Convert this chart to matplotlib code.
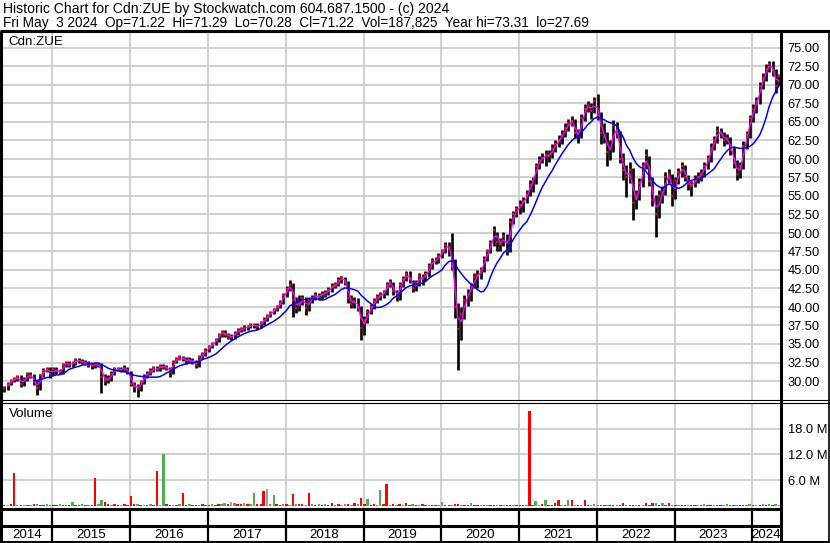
import numpy as np
import pandas as pd
import matplotlib
matplotlib.use("Agg")
import matplotlib.pyplot as plt
import matplotlib.dates as mdates

plt.rcParams['font.family'] = ['Liberation Sans', 'DejaVu Sans']

# semi-monthly bars (1st / 15th), mid May 2014 .. May 2024
periods = pd.date_range('2014-05-15', periods=240, freq='SMS')

close = [
    # 2014 (from May 15)
    29.0, 29.6, 30.0, 30.3, 30.5, 29.6, 30.2, 30.9, 30.7, 29.9, 29.0, 30.8, 31.4, 31.6, 31.0,
    # 2015
    31.6, 31.3, 31.2, 32.2, 32.4, 32.2, 32.4, 32.8, 32.7, 32.6, 32.4, 32.2,
    32.0, 32.3, 32.2, 30.6, 30.0, 30.3, 31.0, 31.6, 31.6, 31.5, 31.8, 31.2,
    # 2016
    29.6, 29.2, 29.0, 29.8, 30.6, 31.0, 31.4, 31.7, 31.6, 32.0, 31.9, 31.8,
    31.2, 32.6, 33.0, 33.2, 33.0, 32.7, 32.9, 32.6, 32.1, 33.2, 33.6, 34.1,
    # 2017
    34.6, 35.0, 35.5, 36.2, 36.6, 36.3, 36.1, 35.9, 36.4, 36.8, 37.0, 37.2,
    37.3, 37.6, 37.5, 37.4, 37.8, 38.3, 38.8, 39.2, 39.6, 40.0, 40.6, 41.6,
    # 2018
    42.4, 43.0, 41.0, 39.8, 40.6, 41.2, 39.8, 40.9, 41.2, 41.6, 41.4, 41.8,
    41.9, 42.3, 42.8, 43.0, 43.6, 44.0, 43.4, 41.2, 40.4, 40.8, 40.0, 37.2,
    # 2019
    38.2, 39.3, 40.0, 40.8, 41.3, 41.6, 41.9, 43.0, 43.4, 42.2, 41.3, 43.0,
    43.8, 44.5, 43.8, 42.5, 43.2, 44.2, 43.8, 44.4, 45.5, 46.2, 46.3, 46.9,
    # 2020
    47.5, 48.4, 48.0, 45.5, 40.0, 37.0, 39.0, 41.0, 41.8, 42.8, 44.0, 44.3,
    45.0, 46.5, 47.5, 48.6, 50.4, 48.8, 48.5, 49.6, 47.6, 51.5, 52.5, 53.2,
    # 2021
    53.8, 54.3, 55.2, 56.5, 57.0, 59.0, 59.8, 60.2, 60.6, 60.4, 61.4, 62.0,
    62.6, 63.3, 64.2, 64.8, 65.2, 63.5, 63.0, 65.6, 66.8, 67.3, 66.5, 67.8,
    # 2022
    66.0, 63.5, 63.0, 61.0, 61.5, 64.5, 63.5, 60.0, 58.5, 57.5, 58.5, 54.0,
    55.0, 56.8, 59.0, 60.5, 57.0, 54.5, 52.5, 55.0, 55.5, 57.5, 58.0, 55.0,
    # 2023
    57.0, 58.2, 59.0, 57.6, 56.6, 56.4, 57.2, 57.6, 58.0, 59.0, 60.0, 61.5,
    62.5, 63.8, 63.5, 62.5, 62.8, 61.2, 59.5, 58.0, 59.0, 61.8, 63.2, 65.5,
    # 2024
    66.8, 67.8, 69.8, 71.0, 72.2, 72.8, 72.0, 69.8, 71.2,
]

high = [
    29.3, 29.9, 30.3, 30.6, 30.8, 30.8, 30.5, 31.2, 31.2, 30.9, 30.1, 31.0, 31.7, 31.9, 31.9,
    31.9, 31.9, 31.6, 32.5, 32.7, 32.7, 32.7, 33.1, 33.1, 33.0, 32.9, 32.7,
    32.5, 32.6, 32.6, 32.4, 31.0, 30.8, 31.3, 31.9, 31.9, 31.9, 32.1, 31.9,
    31.4, 29.9, 29.6, 30.1, 30.9, 31.3, 31.7, 32.0, 32.0, 32.3, 32.3, 32.2,
    31.9, 32.9, 33.3, 33.5, 33.4, 33.2, 33.2, 33.1, 32.8, 33.5, 33.9, 34.4,
    34.9, 35.3, 35.8, 36.5, 36.9, 36.9, 36.5, 36.3, 36.7, 37.1, 37.3, 37.5,
    37.6, 37.9, 37.9, 37.8, 38.1, 38.6, 39.1, 39.5, 39.9, 40.3, 40.9, 41.9,
    42.8, 43.6, 43.2, 41.4, 41.6, 41.6, 41.3, 41.3, 41.6, 42.0, 41.9, 42.2,
    42.3, 42.7, 43.2, 43.4, 44.0, 44.2, 44.1, 43.5, 41.6, 41.3, 41.2, 40.2,
    38.8, 39.7, 40.4, 41.2, 41.7, 42.0, 42.3, 43.4, 43.8, 43.4, 42.3, 43.4,
    44.2, 44.9, 44.8, 43.6, 43.6, 44.6, 44.4, 44.8, 45.9, 46.6, 46.7, 47.3,
    47.9, 48.8, 48.8, 50.0, 46.5, 40.5, 40.0, 41.6, 42.4, 43.3, 44.6, 45.0,
    45.4, 46.9, 47.9, 49.0, 51.0, 50.2, 49.3, 50.2, 49.8, 52.0, 53.0, 53.7,
    54.4, 54.9, 55.8, 57.1, 57.6, 59.5, 60.4, 60.8, 61.2, 61.2, 62.0, 62.6,
    63.2, 63.9, 64.8, 65.4, 65.8, 65.4, 64.0, 66.1, 67.4, 67.9, 67.6, 68.4,
    68.8, 66.4, 64.8, 63.6, 62.6, 65.3, 65.0, 63.8, 60.8, 59.2, 59.6, 58.8,
    55.8, 57.4, 59.6, 61.4, 60.4, 57.6, 55.2, 55.8, 56.3, 58.2, 58.6, 58.0,
    57.6, 58.8, 59.6, 59.2, 57.8, 57.0, 57.8, 58.2, 58.6, 59.6, 60.6, 62.1,
    63.1, 64.4, 64.2, 63.7, 63.4, 63.0, 61.6, 59.8, 59.6, 62.4, 63.8, 66.0,
    67.4, 68.4, 70.4, 71.6, 72.8, 73.3, 73.2, 72.2, 71.5,
]

low = [
    28.5, 28.8, 29.4, 29.8, 30.0, 29.2, 29.3, 30.0, 30.4, 29.5, 28.1, 28.8, 30.6, 31.2, 30.4,
    30.8, 30.9, 30.9, 31.0, 31.9, 31.9, 31.9, 32.1, 32.4, 32.3, 32.1, 31.9,
    31.6, 31.7, 31.9, 28.4, 29.4, 29.7, 30.0, 30.8, 31.3, 31.2, 31.2, 30.9,
    29.3, 28.5, 27.9, 28.7, 29.6, 30.4, 30.8, 31.2, 31.3, 31.4, 31.6, 31.5,
    30.5, 31.0, 32.4, 32.8, 32.7, 32.3, 32.5, 32.3, 31.7, 31.9, 33.0, 33.4,
    33.9, 34.4, 34.8, 35.3, 35.9, 36.0, 35.7, 35.5, 35.7, 36.2, 36.6, 36.8,
    36.9, 37.1, 37.1, 36.9, 37.2, 37.6, 38.1, 38.6, 39.0, 39.4, 39.8, 40.4,
    41.3, 42.1, 38.7, 39.2, 39.5, 40.3, 38.9, 39.5, 40.5, 40.9, 41.0, 41.1,
    41.4, 41.6, 42.0, 42.5, 42.8, 43.3, 43.0, 40.6, 39.8, 39.9, 39.4, 35.5,
    36.2, 37.9, 39.0, 39.7, 40.5, 40.9, 41.2, 41.6, 42.7, 41.6, 40.8, 41.0,
    42.7, 43.5, 43.3, 42.0, 42.2, 42.9, 43.0, 43.5, 44.1, 45.2, 45.8, 46.0,
    46.6, 47.3, 46.9, 45.0, 38.5, 31.5, 35.5, 38.4, 40.2, 40.8, 42.5, 42.6,
    43.8, 44.7, 46.2, 47.3, 48.3, 47.5, 47.6, 48.2, 47.0, 47.4, 51.2, 52.2,
    52.6, 52.9, 54.0, 55.0, 55.6, 56.6, 58.6, 59.4, 59.0, 59.6, 60.2, 61.0,
    61.6, 62.0, 63.0, 63.8, 64.4, 62.9, 62.2, 62.8, 65.2, 66.4, 65.4, 66.2,
    65.3, 62.0, 62.2, 59.0, 59.8, 61.0, 62.8, 59.4, 57.2, 54.9, 56.8, 51.8,
    53.2, 54.4, 56.2, 58.6, 56.4, 53.6, 49.5, 52.0, 54.0, 55.2, 56.8, 53.6,
    54.6, 56.6, 57.6, 57.0, 55.8, 55.0, 56.2, 56.8, 57.0, 57.6, 58.6, 59.6,
    61.2, 62.2, 62.8, 61.8, 62.0, 60.6, 58.8, 57.2, 57.4, 58.6, 61.4, 62.8,
    65.0, 66.2, 67.4, 69.4, 70.6, 71.8, 71.2, 68.9, 70.0,
]

# volume in millions (largest session of each half month)
volume = [
    0.3, 0.2, 0.4, 7.7, 0.3, 0.2, 0.3, 0.2, 0.3, 0.4, 0.5, 0.3, 0.2, 0.4, 0.3,
    0.3, 0.2, 0.4, 0.3, 0.2, 0.3, 1.0, 0.3, 0.2, 0.4, 0.3, 0.2,
    0.3, 6.5, 0.4, 1.3, 1.0, 0.5, 0.3, 0.4, 0.2, 0.3, 0.4, 0.3,
    2.3, 0.5, 0.4, 0.3, 0.2, 0.3, 0.4, 0.3, 8.2, 0.3, 12.0, 0.4,
    0.3, 0.2, 0.3, 0.4, 3.1, 0.3, 0.4, 0.3, 0.2, 0.3, 0.4, 0.3,
    0.3, 0.4, 0.3, 0.5, 0.4, 0.6, 0.5, 1.0, 0.6, 0.4, 0.5, 0.6,
    0.4, 0.5, 3.1, 0.4, 0.5, 3.5, 3.9, 0.4, 2.5, 0.4, 0.3, 0.5,
    0.4, 0.3, 2.7, 0.5, 0.4, 0.5, 0.3, 3.1, 0.4, 0.3, 0.5, 0.3,
    0.4, 0.3, 0.8, 0.3, 0.4, 0.3, 0.5, 0.4, 0.3, 0.6, 0.4, 1.9,
    0.4, 1.6, 0.3, 0.4, 0.3, 3.7, 0.4, 5.1, 0.3, 0.4, 0.3, 0.4,
    0.3, 0.8, 0.3, 0.4, 0.3, 0.3, 0.4, 0.3, 0.2, 0.3, 0.3, 0.2,
    1.0, 0.3, 0.2, 0.3, 0.4, 0.5, 0.3, 0.3, 0.2, 0.6, 0.3, 0.2,
    0.3, 0.2, 0.3, 0.2, 0.3, 0.2, 0.3, 0.2, 0.3, 0.2, 0.3, 0.2,
    0.3, 0.2, 0.3, 22.0, 0.3, 1.2, 0.3, 0.4, 1.3, 0.3, 0.2, 0.6,
    1.3, 0.3, 0.2, 1.4, 1.4, 0.3, 0.2, 0.3, 1.3, 0.2, 0.3, 0.4,
    0.3, 0.2, 0.3, 0.2, 0.3, 0.2, 0.3, 0.2, 0.6, 0.2, 0.3, 0.2,
    0.3, 0.2, 0.3, 0.6, 0.3, 0.7, 0.7, 0.3, 0.7, 0.2, 0.6, 0.3,
    0.2, 0.3, 0.2, 0.3, 0.2, 0.3, 0.2, 0.3, 0.2, 0.5, 0.2, 0.3,
    0.2, 0.3, 0.2, 0.3, 0.5, 0.2, 0.3, 0.2, 0.3, 0.2, 0.3, 0.4,
    0.3, 0.2, 0.3, 0.4, 0.3, 0.4, 0.3, 0.4, 0.2,
]

# direction of that session: u = up, d = down, n = unchanged
vol_dir = (
    "d u d d u d u d u d u d d u d "
    "d d u d u d u d d u d u d d u u d d u d d u d d "
    "d d u d u d u d d u u d d u d u d d u d d u d d "
    "d u d d u u d n u d d u d u u d d d n u u d d u "
    "d u d u d d u d u d u d u d d u d n u d u d u d "
    "d u d d u u d d u d u d u d d u d u d d u d d u "
    "u d d u d d u d d u d d u d u d d u d u d d u d "
    "d d u d d u u d u d d d d u d u d u d u d d u u "
    "u d d u d d u d d u d d u d u d d d u d u d d u "
    "d u d d u d d u d u d d u d d u u d d u d d u u "
    "d u d u d u d u u"
).split()

years = list(range(2014, 2025))

# ---------------------------------------------------------------- layout
W, H = 830, 543
fig = plt.figure(figsize=(W / 100, H / 100), dpi=100)


def px_axes(x0, y0, x1, y1):
    return fig.add_axes([x0 / W, 1 - y1 / H, (x1 - x0) / W, (y1 - y0) / H])


d15 = mdates.date2num(pd.Timestamp('2015-01-01'))
d24 = mdates.date2num(pd.Timestamp('2024-01-01'))
dpp = (d24 - d15) / (752.3 - 52.5)          # days per pixel
xlim = (d15 - (52.5 - 2) * dpp, d24 + (780 - 752.3) * dpp)

xs = mdates.date2num(periods) + 4
close_s = pd.Series(close)
ma_fast = close_s.rolling(2).mean()
ma_slow = close_s.rolling(10).mean()

grid_kw = dict(color='#c8c8c8', lw=1.2, zorder=0)
year_x = [mdates.date2num(pd.Timestamp(f'{y}-01-01')) for y in years[1:]]

# price panel
ax = px_axes(2, 31, 780, 400)
ax.set_xlim(*xlim)
ax.set_ylim(30 - 19 / 7.4, 30 + 350 / 7.4)
ticks = np.arange(30, 75.01, 2.5)
for t in ticks:
    ax.axhline(t, **grid_kw)
for x in year_x:
    ax.axvline(x, **grid_kw)
ax.vlines(xs, low, high, color='black', lw=1.9, zorder=2)
ax.plot(xs, close, ls='none', marker='s', ms=1.6, mew=0, color='#ff0000', zorder=3)
ax.plot(xs, ma_fast, color='#ff00ff', lw=1.0, zorder=4)
ax.plot(xs, ma_slow, color='#0000ff', lw=1.1, zorder=4)
ax.yaxis.tick_right()
ax.set_yticks(ticks)
ax.set_yticklabels([f'{t:.2f}' for t in ticks])
ax.tick_params(axis='y', length=0, pad=5.5, labelsize=9.3)
ax.set_xticks([])
for s in ax.spines.values():
    s.set_visible(False)
ax.text(6 / 776, 1 - 14 / 369, 'Cdn:ZUE', transform=ax.transAxes,
        fontsize=9.6, va='baseline', ha='left')

# volume panel
av = px_axes(2, 403, 780, 508)
av.set_xlim(*xlim)
av.set_ylim(-2 / 25.8 * 6, (506 - 403) / 25.8 * 6)
vticks = [6, 12, 18]
for t in vticks:
    av.axhline(t, **grid_kw)
for x in year_x:
    av.axvline(x, **grid_kw)
vcol = {'u': '#4cb04c', 'd': '#ff0000', 'n': '#a0a0a0'}
av.bar(xs, volume, width=2.4 * dpp, color=[vcol[d] for d in vol_dir], zorder=2)
av.yaxis.tick_right()
av.set_yticks(vticks)
av.set_yticklabels([f'{t:.1f} M' for t in vticks])
av.tick_params(axis='y', length=0, pad=5.5, labelsize=9.3)
av.set_xticks([])
for s in av.spines.values():
    s.set_visible(False)
av.text(7 / 776, 1 - 14 / 105, 'Volume', transform=av.transAxes,
        fontsize=9.6, va='baseline', ha='left')

# year band
ab = px_axes(2, 509, 780, 541)
ab.set_xlim(*xlim)
ab.set_ylim(0, 1)
ab.axis('off')
ab.vlines(year_x, 0, 1, color='black', lw=1.6)
edges = [xlim[0]] + year_x + [xlim[1]]
for y, a, b in zip(years, edges[:-1], edges[1:]):
    ab.text((a + b) / 2, 0.08, str(y), ha='center', va='baseline', fontsize=9.6)

# frame lines
ov = fig.add_axes([0, 0, 1, 1], facecolor='none')
ov.set_xlim(0, W)
ov.set_ylim(H, 0)
ov.axis('off')
k = dict(color='black', solid_capstyle='butt')
ov.plot([0, W], [31, 31], lw=2.2, **k)
ov.plot([1.2, 1.2], [31, H], lw=2.2, **k)
ov.plot([780.5, 780.5], [31, H], lw=2.2, **k)
ov.plot([828.5, 828.5], [31, H], lw=1.2, **k)
ov.plot([0, W], [400, 400], lw=0.8, **k)
ov.plot([0, W], [403, 403], lw=0.8, **k)
ov.plot([0, 781], [509, 509], lw=2.2, **k)
ov.plot([0, 781], [526, 526], lw=2.2, **k)
ov.plot([0, W], [541.5, 541.5], lw=2.2, **k)

fig.text(3 / W, 1 - 13.5 / H,
         'Historic Chart for Cdn:ZUE by Stockwatch.com 604.687.1500 - (c) 2024',
         fontsize=10.1, va='baseline', ha='left')
fig.text(3 / W, 1 - 27.5 / H,
         'Fri May  3 2024  Op=71.22  Hi=71.29  Lo=70.28  Cl=71.22  '
         'Vol=187,825  Year hi=73.31  lo=27.69',
         fontsize=9.8, va='baseline', ha='left')

fig.savefig('out.png', dpi=100)
